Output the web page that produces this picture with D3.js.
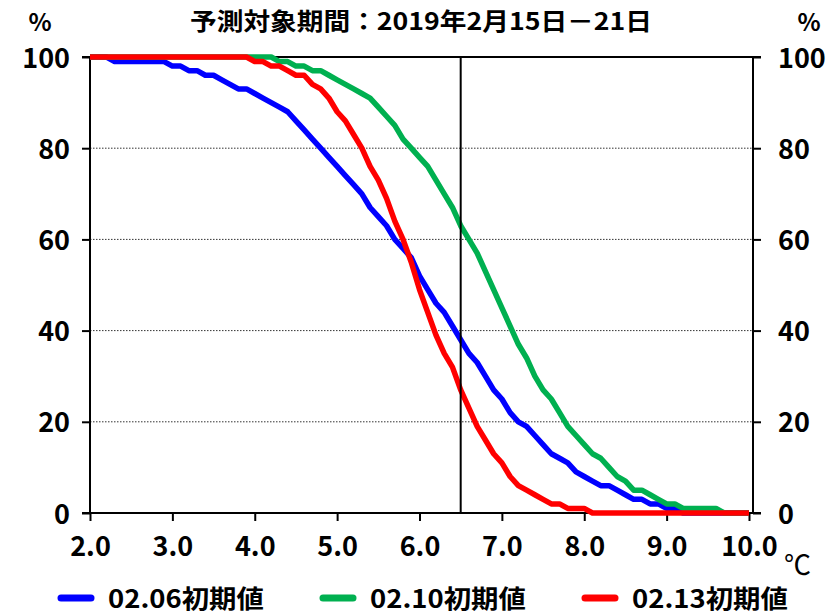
<!DOCTYPE html>
<html>
<head>
<meta charset="utf-8">
<script src="https://cdn.jsdelivr.net/npm/d3@7"></script>
<style>
  html, body { margin: 0; padding: 0; background: #fff; }
  svg { display: block; }
  text { font-family: "Noto Sans CJK JP", "Noto Sans", sans-serif; font-weight: 700; fill: #000; }
</style>
</head>
<body>
<svg id="chart" width="830" height="615"></svg>
<script>
// Temperature (°C) at which each probability is read
const temps = [
  2.0, 2.1, 2.2, 2.3, 2.4, 2.5, 2.6, 2.7, 2.8, 2.9,
  3.0, 3.1, 3.2, 3.3, 3.4, 3.5, 3.6, 3.7, 3.8, 3.9,
  4.0, 4.1, 4.2, 4.3, 4.4, 4.5, 4.6, 4.7, 4.8, 4.9,
  5.0, 5.1, 5.2, 5.3, 5.4, 5.5, 5.6, 5.7, 5.8, 5.9,
  6.0, 6.1, 6.2, 6.3, 6.4, 6.5, 6.6, 6.7, 6.8, 6.9,
  7.0, 7.1, 7.2, 7.3, 7.4, 7.5, 7.6, 7.7, 7.8, 7.9,
  8.0, 8.1, 8.2, 8.3, 8.4, 8.5, 8.6, 8.7, 8.8, 8.9,
  9.0, 9.1, 9.2, 9.3, 9.4, 9.5, 9.6, 9.7, 9.8, 9.9,
  10.0
];

// Probability (%) of exceeding each temperature, per forecast initial date
const init0206 = [
  100, 100, 100, 99, 99, 99, 99, 99, 99, 99,
  98, 98, 97, 97, 96, 96, 95, 94, 93, 93,
  92, 91, 90, 89, 88, 86, 84, 82, 80, 78,
  76, 74, 72, 70, 67, 65, 63, 60, 58, 56,
  52, 49, 46, 44, 41, 38, 35, 33, 30, 27,
  25, 22, 20, 19, 17, 15, 13, 12, 11, 9,
  8, 7, 6, 6, 5, 4, 3, 3, 2, 2,
  1, 1, 0, 0, 0, 0, 0, 0, 0, 0,
  0
];
const init0210 = [
  100, 100, 100, 100, 100, 100, 100, 100, 100, 100,
  100, 100, 100, 100, 100, 100, 100, 100, 100, 100,
  100, 100, 100, 99, 99, 98, 98, 97, 97, 96,
  95, 94, 93, 92, 91, 89, 87, 85, 82, 80,
  78, 76, 73, 70, 67, 63, 60, 57, 53, 49,
  45, 41, 37, 34, 30, 27, 25, 22, 19, 17,
  15, 13, 12, 10, 8, 7, 5, 5, 4, 3,
  2, 2, 1, 1, 1, 1, 1, 0, 0, 0,
  0
];
const init0213 = [
  100, 100, 100, 100, 100, 100, 100, 100, 100, 100,
  100, 100, 100, 100, 100, 100, 100, 100, 100, 100,
  99, 99, 98, 98, 97, 96, 96, 94, 93, 91,
  88, 86, 83, 80, 76, 73, 69, 64, 60, 55,
  49, 44, 39, 35, 32, 27, 23, 19, 16, 13,
  11, 8, 6, 5, 4, 3, 2, 2, 1, 1,
  1, 0, 0, 0, 0, 0, 0, 0, 0, 0,
  0, 0, 0, 0, 0, 0, 0, 0, 0, 0,
  0
];

const seriesNames = ["02.06初期値", "02.10初期値", "02.13初期値"];
const seriesColors = ["#0000ff", "#00b050", "#ff0000"];
const seriesValues = [init0206, init0210, init0213];

const xTicks = [2, 3, 4, 5, 6, 7, 8, 9, 10];
const yTicks = [0, 20, 40, 60, 80, 100];
const gridTicks = [20, 40, 60, 80];
const markerTemp = 6.5;
const titleText = "予測対象期間：2019年2月15日－21日";
const unitY = "%";
const unitX = "℃";

// ---- layout ----
const plotLeft = 90, plotRight = 753, plotTop = 57, plotBottom = 513;
const tick = 8;

const svg = d3.select("#chart");
const x = d3.scaleLinear().domain([2, 10]).range([90, 749]);
const y = d3.scaleLinear().domain([0, 100]).range([plotBottom, plotTop]);

// dotted gridlines
svg.append("g")
  .selectAll("line")
  .data(gridTicks)
  .join("line")
  .attr("x1", plotLeft).attr("x2", plotRight)
  .attr("y1", d => y(d)).attr("y2", d => y(d))
  .attr("stroke", "#333")
  .attr("stroke-width", 1)
  .attr("stroke-dasharray", "1.5,1.5");

// axes
const styleAxis = g => {
  g.select(".domain").remove();
  g.selectAll(".tick line").attr("stroke", "#000").attr("stroke-width", 2);
  g.selectAll(".tick text")
    .style("font-size", "27px")
    .style("font-family", "'Noto Sans CJK JP', sans-serif")
    .style("font-weight", 700)
    .attr("fill", "#000");
};

svg.append("g")
  .attr("transform", `translate(${plotLeft},0)`)
  .call(d3.axisLeft(y).tickValues(yTicks).tickSize(tick).tickPadding(12).tickFormat(d3.format("d")))
  .call(styleAxis)
  .call(g => g.selectAll(".tick text").attr("dy", "0.37em"));

svg.append("g")
  .attr("transform", `translate(${plotRight},0)`)
  .call(d3.axisRight(y).tickValues(yTicks).tickSize(tick).tickPadding(17).tickFormat(d3.format("d")))
  .call(styleAxis)
  .call(g => g.selectAll(".tick text").attr("dy", "0.37em"));

svg.append("g")
  .attr("transform", `translate(0,${plotBottom})`)
  .call(d3.axisBottom(x).tickValues(xTicks).tickSize(tick).tickPadding(16).tickFormat(d3.format(".1f")))
  .call(styleAxis)
  .call(g => g.selectAll(".tick text").style("font-size", "27px"));

// plot frame
const frame = svg.append("g").attr("stroke", "#000").attr("stroke-width", 2);
frame.append("line").attr("x1", plotLeft - tick).attr("x2", plotRight + tick).attr("y1", plotTop).attr("y2", plotTop);
frame.append("line").attr("x1", plotLeft - tick).attr("x2", plotRight + tick).attr("y1", plotBottom).attr("y2", plotBottom);
frame.append("line").attr("x1", plotLeft).attr("x2", plotLeft).attr("y1", plotTop).attr("y2", plotBottom);
frame.append("line").attr("x1", plotRight).attr("x2", plotRight).attr("y1", plotTop).attr("y2", plotBottom);

// probability curves
const line = d3.line()
  .x((d, i) => x(temps[i]))
  .y(d => y(d));

svg.append("g")
  .selectAll("path")
  .data(seriesValues)
  .join("path")
  .attr("d", d => line(d))
  .attr("fill", "none")
  .attr("stroke", (d, i) => seriesColors[i])
  .attr("stroke-width", 5.5)
  .attr("stroke-linejoin", "round")
  .attr("stroke-linecap", "butt");

// reference temperature marker
svg.append("line")
  .attr("x1", x(markerTemp)).attr("x2", x(markerTemp))
  .attr("y1", plotTop).attr("y2", plotBottom)
  .attr("stroke", "#000").attr("stroke-width", 2);

// titles and units
svg.append("text")
  .attr("x", 190).attr("y", 30)
  .attr("textLength", 462).attr("lengthAdjust", "spacingAndGlyphs")
  .style("font-size", "24px")
  .text(titleText);

svg.append("text").attr("x", 40).attr("y", 31).attr("text-anchor", "middle")
  .style("font-size", "24px").text(unitY);
svg.append("text").attr("x", 809).attr("y", 31).attr("text-anchor", "middle")
  .style("font-size", "24px").text(unitY);
svg.append("text").attr("x", 784).attr("y", 575)
  .style("font-size", "27px").style("font-weight", 400).text(unitX);

// legend
const legend = svg.append("g")
  .selectAll("g")
  .data(seriesNames)
  .join("g")
  .attr("transform", (d, i) => `translate(${58 + i * 262},598)`);

legend.append("line")
  .attr("x1", 3).attr("x2", 33).attr("y1", 0).attr("y2", 0)
  .attr("stroke", (d, i) => seriesColors[i])
  .attr("stroke-width", 7)
  .attr("stroke-linecap", "round");

legend.append("text")
  .attr("x", 50).attr("y", 10)
  .attr("textLength", 156).attr("lengthAdjust", "spacingAndGlyphs")
  .style("font-size", "25px")
  .text(d => d);
</script>
</body>
</html>
